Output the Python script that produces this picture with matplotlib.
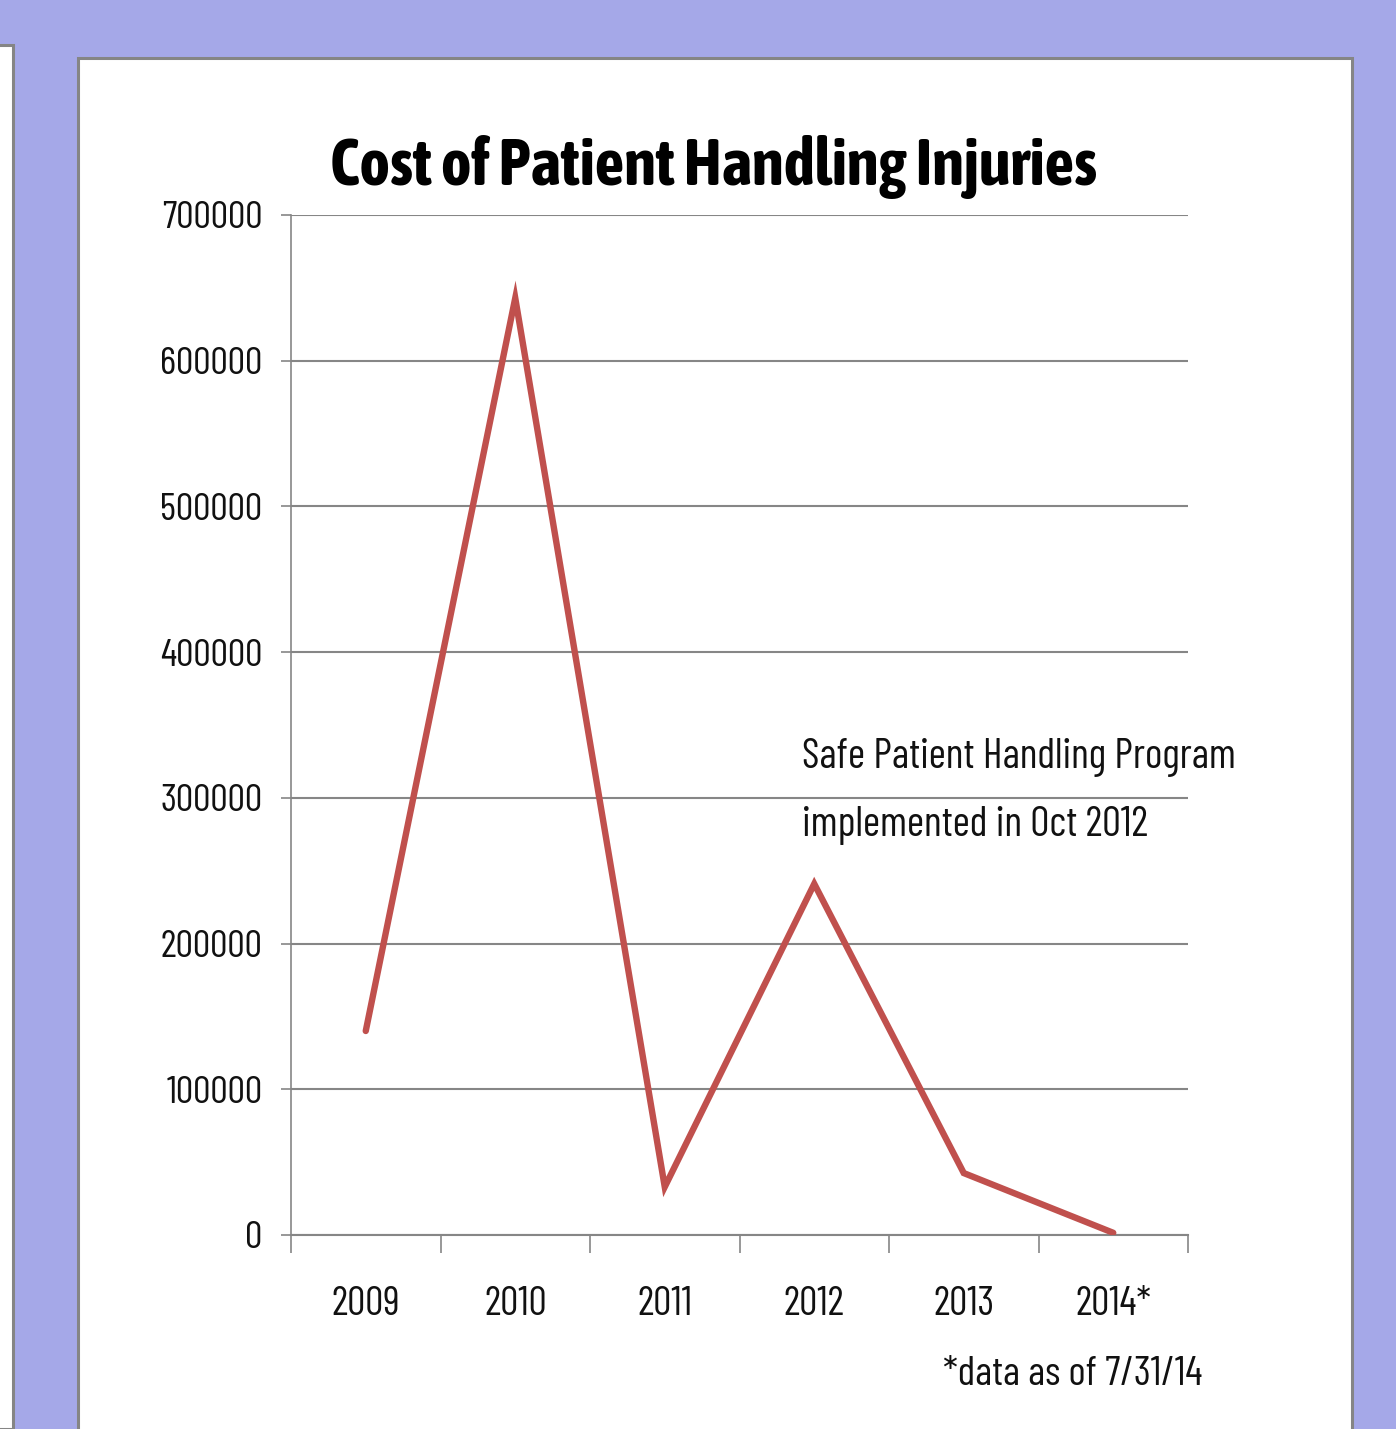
import matplotlib.pyplot as plt
from matplotlib.patches import Rectangle

# data
years = ['2009', '2010', '2011', '2012', '2013', '2014*']
cost = [140000, 643000, 33000, 241000, 42500, 1500]
yticks = [0, 100000, 200000, 300000, 400000, 500000, 600000, 700000]

title = 'Cost of Patient Handling Injuries'
note1 = 'Safe Patient Handling Program'
note2 = 'implemented in Oct 2012'
footnote = '*data as of 7/31/14'

# narrow fonts to get near the squeezed Calibri look
plt.rcParams['font.family'] = ['Barlow Condensed', 'Cabin Condensed', 'DejaVu Sans']
title_font = ['Asap Condensed', 'Barlow Condensed', 'DejaVu Sans']

W, H = 1396, 1429
fig = plt.figure(figsize=(W / 100, H / 100), dpi=100)
fig.patch.set_facecolor('#A5A8E8')

# white slide panels
fig.patches.append(Rectangle((-10 / W, 0), 23 / W, 1 - 45 / H, transform=fig.transFigure,
                             facecolor='white', edgecolor='#858585', lw=2.2, zorder=-1))
fig.patches.append(Rectangle((78 / W, -10 / H), (1352 - 78) / W, 1 - 48 / H, transform=fig.transFigure,
                             facecolor='white', edgecolor='#858585', lw=2.2, zorder=-1))

ax = fig.add_axes([291 / W, 1 - 1235 / H, (1188 - 291) / W, (1235 - 215) / H])
ax.set_facecolor('none')

x = list(range(len(years)))
ax.plot(x, cost, color='#C0504D', lw=4.6, solid_joinstyle='miter', solid_capstyle='round', zorder=3)

ax.set_xlim(-0.5, len(years) - 0.5)
ax.set_ylim(0, 700000)
ax.set_yticks(yticks)
ax.set_yticklabels([str(v) for v in yticks])
ax.set_xticks(x)
ax.set_xticklabels(years)
ax.set_xticks([i - 0.5 for i in range(len(years) + 1)], minor=True)

ax.grid(axis='y', color='#868686', lw=1.5)
ax.set_axisbelow(True)
for s in ['top', 'right']:
    ax.spines[s].set_visible(False)
ax.spines['left'].set_color('#868686')
ax.spines['left'].set_linewidth(1.2)
ax.spines['bottom'].set_color('#868686')
ax.spines['bottom'].set_linewidth(1.5)

ax.tick_params(axis='y', length=7.5, width=1.2, color='#868686', pad=13, labelsize=28, labelcolor='#111111')
ax.tick_params(axis='x', which='major', length=0, pad=37, labelsize=29, labelcolor='#111111')
ax.tick_params(axis='x', which='minor', length=13, width=1.2, color='#868686')

ax.text(2.918, 320500, note1, fontsize=30, color='#111111', va='baseline', ha='left')
ax.text(2.918, 273800, note2, fontsize=30, color='#111111', va='baseline', ha='left')

fig.text(714 / W, 1 - 185 / H, title, fontsize=47, fontweight='bold', family=title_font,
         ha='center', va='baseline')
fig.text(943 / W, 1 - 1385 / H, footnote, fontsize=29.5, color='#111111', ha='left', va='baseline')

fig.savefig('out.png', dpi=100, facecolor=fig.get_facecolor())
